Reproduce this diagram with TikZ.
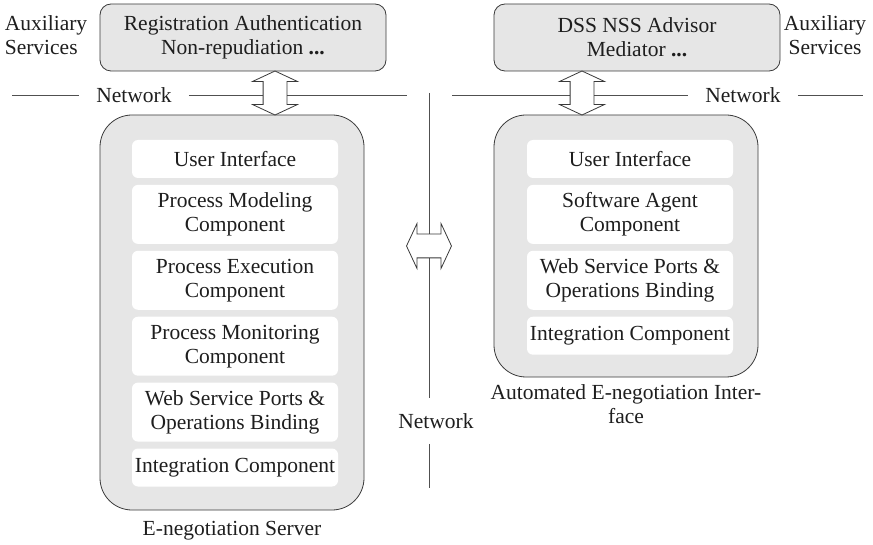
\documentclass[tikz,border=0pt]{standalone}
\usepackage{fontspec}
\setmainfont{Liberation Serif}
\usetikzlibrary{positioning,shapes.arrows}
\definecolor{boxgray}{HTML}{E6E6E6}
\definecolor{edge}{HTML}{3A3A3A}
\definecolor{wire}{HTML}{505050}
\definecolor{ink}{HTML}{1E1E1E}

\tikzset{
  svcbox/.style={draw=edge,fill=boxgray,line width=0.8pt,rounded corners=11pt,minimum width=286pt,minimum height=67pt,align=center,inner sep=0pt},
  hostbox/.style={draw=edge,fill=boxgray,line width=0.8pt,rounded corners=32pt,minimum width=264pt,inner sep=0pt},
  layer/.style={fill=white,rounded corners=6pt,minimum width=206pt,minimum height=38pt,align=center,inner sep=0pt},
  tall/.style={minimum height=59pt},
  netlabel/.style={inner xsep=17pt,inner ysep=0pt},
  netline/.style={draw=wire,line width=0.8pt},
  blockarrow/.style={double arrow,draw=edge,fill=white,line width=0.8pt,minimum width=0pt,minimum height=44pt,double arrow head extend=10.5pt,double arrow tip angle=130,inner sep=11.5pt}
}

\begin{document}
\begin{tikzpicture}[x=1pt,y=-1pt,text=ink,font=\fontsize{21.5}{24}\selectfont]
    \useasboundingbox (0,0) rectangle (873,545);
    % auxiliary services
    \node[svcbox] (regbox) at (243,37.5) {Registration Authentication\\Non-repudiation \textbf{...}};
    \node[svcbox] (dssbox) at (637,37.5) {DSS NSS Advisor\\Mediator \textbf{...}};
    \node[align=left] (auxL) at (46,35) {Auxiliary\\Services};
    \node[align=center] (auxR) at (825,35) {Auxiliary\\Services};
    % network
    \node[netlabel] (netL) at (134,95) {Network};
    \node[netlabel] (netR) at (743,95) {Network};
    \node[netlabel,inner ysep=15pt] (netV) at (436,421) {Network};
    \coordinate (nl0) at (12,95);
    \coordinate (nl1) at (407,95);
    \coordinate (nr0) at (452,95);
    \coordinate (nr1) at (863,95);
    \coordinate (vtop) at (429,93);
    \coordinate (vbot) at (429,488);
    \draw[netline] (nl0) -- (netL.west) (netL.east) -- (nl1);
    \draw[netline] (nr0) -- (netR.west) (netR.east) -- (nr1);
    \draw[netline] (vtop) -- (vtop |- netV.north) (vtop |- netV.south) -- (vbot);
    % server
    \node[hostbox,minimum height=395pt] (srv) at (232,312.5) {};
    \node[layer] (srvui) at (235,159) {User Interface};
    \node[layer,tall,below=6.5pt of srvui] (srvpm) {Process Modeling\\Component};
    \node[layer,tall,below=6.5pt of srvpm] (srvpe) {Process Execution\\Component};
    \node[layer,tall,below=6.5pt of srvpe] (srvmon) {Process Monitoring\\Component};
    \node[layer,tall,below=6.5pt of srvmon] (srvws) {Web Service Ports \&\\Operations Binding};
    \node[layer,below=6.5pt of srvws] (srvint) {Integration Component};
    \node[below=7pt of srv] (srvlabel) {E-negotiation Server};
    % automated interface
    \node[hostbox,minimum height=262pt] (agent) at (626,246) {};
    \node[layer] (agui) at (630,159) {User Interface};
    \node[layer,tall,below=6.5pt of agui] (agsa) {Software Agent\\Component};
    \node[layer,tall,below=6.5pt of agsa] (agws) {Web Service Ports \&\\Operations Binding};
    \node[layer,below=6.5pt of agws] (agint) {Integration Component};
    \node[below=4pt of agent,align=center] (aglabel) {Automated E-negotiation Inter-\\face};
    % block arrows
    \node[blockarrow,rotate=90] (upL) at (275,93) {};
    \node[blockarrow,rotate=90] (upR) at (582,93) {};
    \node[blockarrow,minimum height=45pt] (mid) at (429,246) {};
\end{tikzpicture}
\end{document}
